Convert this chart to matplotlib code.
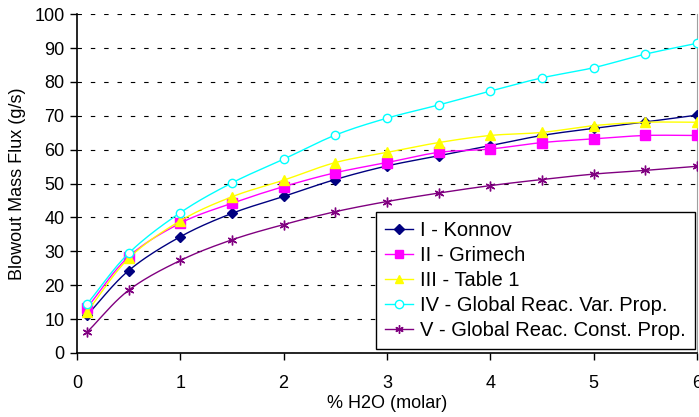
import numpy as np
import matplotlib.pyplot as plt

# Data
h2o = [0.1, 0.5, 1, 1.5, 2, 2.5, 3, 3.5, 4, 4.5, 5, 5.5, 6]
konnov = [11.2, 24.3, 34.3, 41.2, 46.2, 51.2, 55.2, 58.2, 61.2, 64.2, 66.3, 68.2, 70.2]
grimech = [13.4, 28.4, 38.3, 44.2, 49.1, 53.2, 56.2, 59.2, 60.2, 62.1, 63.2, 64.2, 64.2]
table1 = [12.2, 27.9, 39.0, 46.1, 51.0, 56.2, 59.2, 62.1, 64.2, 65.1, 67.1, 68.1, 68.1]
glob_var = [14.5, 29.4, 41.4, 50.2, 57.2, 64.3, 69.3, 73.2, 77.3, 81.2, 84.2, 88.2, 91.4]
glob_const = [6.2, 18.5, 27.3, 33.4, 37.9, 41.7, 44.7, 47.2, 49.4, 51.2, 52.8, 53.9, 55.1]

labels = ["I - Konnov", "II - Grimech", "III - Table 1",
          "IV - Global Reac. Var. Prop.", "V - Global Reac. Const. Prop."]
colors = ["#000080", "#FF00FF", "#FFFF00", "#00FFFF", "#800080"]
markers = ["D", "s", "^", "o", (6, 2, 0)]


def smooth(x, y, n=20):
    # Catmull-Rom curve through the points, like Excel's smoothed line
    x = np.asarray(x, float)
    y = np.asarray(y, float)
    px = np.concatenate([[2 * x[0] - x[1]], x, [2 * x[-1] - x[-2]]])
    py = np.concatenate([[2 * y[0] - y[1]], y, [2 * y[-1] - y[-2]]])
    xs, ys = [], []
    t = np.linspace(0, 1, n, endpoint=False)
    for i in range(1, len(px) - 2):
        for p, out in ((px, xs), (py, ys)):
            p0, p1, p2, p3 = p[i - 1], p[i], p[i + 1], p[i + 2]
            out.extend(0.5 * (2 * p1 + (-p0 + p2) * t
                              + (2 * p0 - 5 * p1 + 4 * p2 - p3) * t ** 2
                              + (-p0 + 3 * p1 - 3 * p2 + p3) * t ** 3))
    xs.append(x[-1])
    ys.append(y[-1])
    return xs, ys


plt.rcParams['font.family'] = ['Liberation Sans', 'DejaVu Sans']

fig = plt.figure(figsize=(6.99, 4.17), dpi=100)
ax = fig.add_axes([0.110, 0.1535, 0.887, 0.8125])

series = [konnov, grimech, table1, glob_var, glob_const]
for i, (ys, lab, c, m) in enumerate(zip(series, labels, colors, markers)):
    sx, sy = smooth(h2o, ys)
    ax.plot(sx, sy, color=c, lw=1, zorder=3 + i)
    if m == "o":
        ax.plot(h2o, ys, ls='none', marker=m, ms=6, mfc='white', mec=c, mew=1, zorder=3 + i)
    elif m == "D":
        ax.plot(h2o, ys, ls='none', marker=m, ms=5, color=c, zorder=3 + i)
    else:
        ax.plot(h2o, ys, ls='none', marker=m, ms=7, color=c, mew=1, zorder=3 + i)
    ax.plot([], [], color=c, lw=1, marker=m, ms=6 if m != "D" else 5,
            mfc='white' if m == "o" else c, mec=c, label=lab)

ax.set_xlim(0, 6)
ax.set_ylim(0, 100)
ax.set_xticks(range(0, 7))
ax.set_yticks(range(0, 101, 10))
ax.grid(axis='y', color='black', ls=(0, (4, 8)), lw=0.8)
ax.set_axisbelow(True)

ax.spines['top'].set_visible(False)
ax.spines['right'].set_color('#a0a0a0')
ax.spines['right'].set_linewidth(0.8)
ax.spines['left'].set_linewidth(1.2)
ax.spines['bottom'].set_linewidth(1.2)

ax.tick_params(axis='both', direction='out', length=5, width=1, labelsize=13)
ax.tick_params(axis='x', pad=11)
ax.tick_params(axis='y', pad=4)

ax.set_xlabel("% H2O (molar)", fontsize=13, labelpad=2)
ax.set_ylabel("Blowout Mass Flux (g/s)", fontsize=13, labelpad=6)

h, l = ax.get_legend_handles_labels()
leg = ax.legend(h[-5:], l[-5:], loc='lower right', bbox_to_anchor=(1.0, 0.005),
                fontsize=14.5, frameon=True, fancybox=False, framealpha=1,
                edgecolor='black', handlelength=1.4, handletextpad=0.35,
                labelspacing=0.3, borderpad=0.45, borderaxespad=0.1)
leg.get_frame().set_linewidth(1)
leg.set_zorder(20)

fig.savefig("out.png", dpi=100)
